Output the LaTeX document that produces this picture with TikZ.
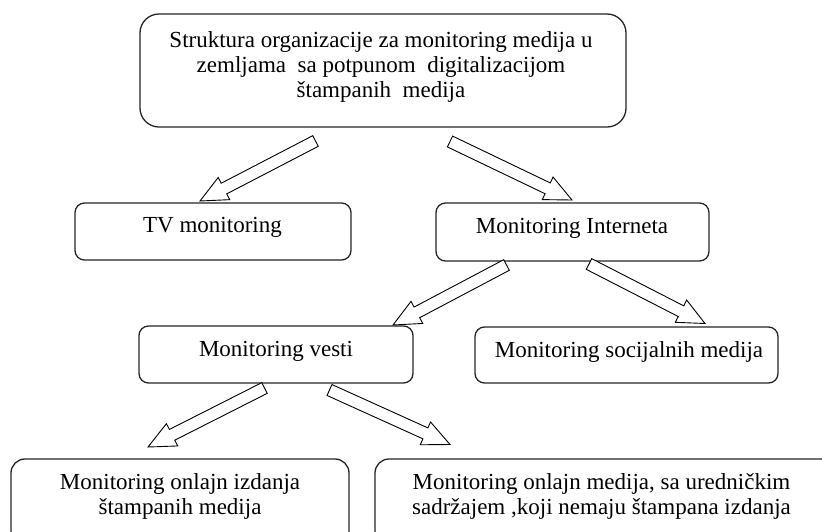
\documentclass[tikz,border=0pt]{standalone}
\usepackage{fontspec}
\setmainfont{Liberation Serif}
\usetikzlibrary{calc}

\tikzset{
  box/.style={draw=black!85, line width=1.3pt, inner sep=0pt, rounded corners=9.5pt},
  boxtext/.style={font=\fontsize{23}{25}\selectfont, align=center, inner sep=0pt},
  hollowarrow/.style={draw=black, line width=0.9pt, fill=white, line join=miter},
}

% Outlined block arrow from tail coordinate #1 to tip coordinate #2
\newcommand\blockarrow[2]{%
  \coordinate (#1-#2-b) at ($(#2)!27pt!(#1)$);
  \draw[hollowarrow]
    ($(#1)!6pt!90:(#2)$) -- ($(#1-#2-b)!6pt!90:(#2)$) -- ($(#1-#2-b)!12.5pt!90:(#2)$)
    -- (#2)
    -- ($(#1-#2-b)!12.5pt!-90:(#2)$) -- ($(#1-#2-b)!6pt!-90:(#2)$) -- ($(#1)!6pt!-90:(#2)$)
    -- cycle;
}

\begin{document}
\begin{tikzpicture}[x=1pt, y=-1pt]
  \useasboundingbox (0,0) rectangle (822,531);
  \clip (0,0) rectangle (822,531);
  \fill[white] (0,0) rectangle (822,531);

  % boxes
  \node[box, rounded corners=19pt, minimum width=486pt, minimum height=113pt] (root) at (383,70.5) {};
  \node[box, minimum width=276pt, minimum height=57pt] (tv) at (213,231.5) {};
  \node[box, minimum width=273pt, minimum height=58pt] (inet) at (572.5,232) {};
  \node[box, minimum width=274pt, minimum height=57pt] (vesti) at (276,354.5) {};
  \node[box, minimum width=303pt, minimum height=56pt] (social) at (626.5,355) {};
  \node[box, rounded corners=14pt, minimum width=338pt, minimum height=86pt] (print) at (180,502) {};
  \node[box, rounded corners=14pt, minimum width=460pt, minimum height=86pt] (online) at (605,502) {};

  % texts
  \node[boxtext] (root-t) at (381,66.5) {Struktura organizacije za monitoring medija u\\
    zemljama\ \ sa potpunom\ \ digitalizacijom\\ štampanih\ \ medija};
  \node[boxtext] (tv-t) at (212.5,227) {TV monitoring};
  \node[boxtext] (inet-t) at (572,228) {Monitoring Interneta};
  \node[boxtext] (vesti-t) at (276,351) {Monitoring vesti};
  \node[boxtext] (social-t) at (629,351.5) {Monitoring socijalnih medija};
  \node[boxtext] (print-t) at (180,496) {Monitoring onlajn izdanja\\ štampanih medija};
  \node[boxtext] (online-t) at (601.5,496) {Monitoring onlajn medija, sa uredničkim\\ sadržajem ,koji nemaju štampana izdanja};

  % arrow end points
  \coordinate (r-tv) at (315.5,141);   \coordinate (tv-in) at (200,201);
  \coordinate (r-in) at (450,141.5);   \coordinate (in-in) at (572,200);
  \coordinate (in-v) at (506.5,265);   \coordinate (v-in) at (393,325);
  \coordinate (in-s) at (589,264);     \coordinate (s-in) at (705,323.5);
  \coordinate (v-p) at (264.5,388);    \coordinate (p-in) at (148,447);
  \coordinate (v-o) at (329.5,390);    \coordinate (o-in) at (450,444.5);

  \blockarrow{r-tv}{tv-in}
  \blockarrow{r-in}{in-in}
  \blockarrow{in-v}{v-in}
  \blockarrow{in-s}{s-in}
  \blockarrow{v-p}{p-in}
  \blockarrow{v-o}{o-in}
\end{tikzpicture}
\end{document}
